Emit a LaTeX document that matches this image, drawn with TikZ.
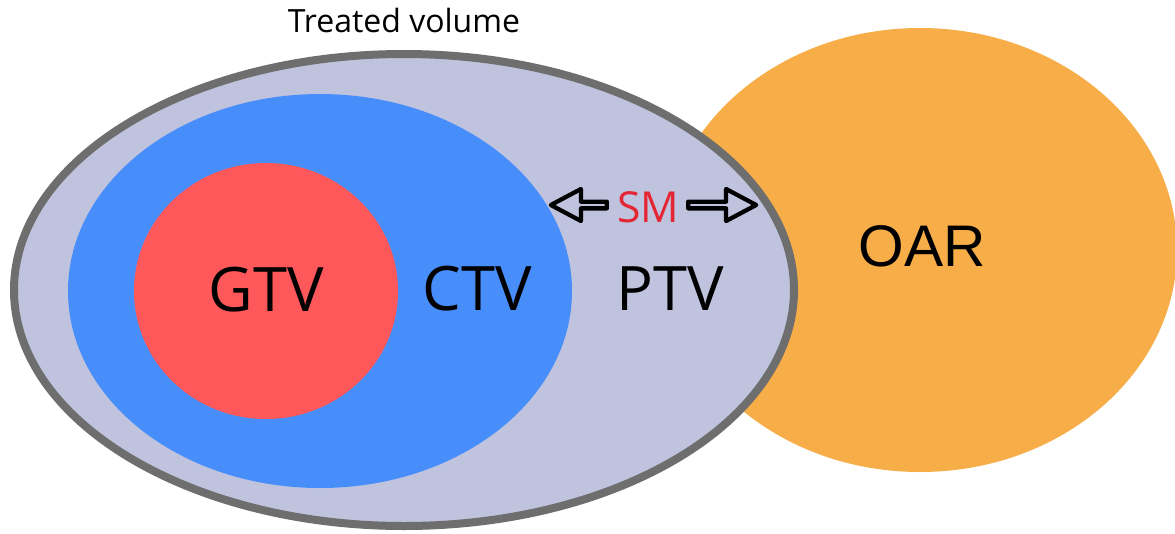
\documentclass[tikz,border=0pt]{standalone}
\usepackage{fontspec}
\setmainfont{Open Sans}
\newfontfamily\oarfont{Liberation Sans}
\usepackage{xcolor}
\usetikzlibrary{shapes.geometric, shapes.arrows, positioning}

\definecolor{ptvfill}{RGB}{191,195,221}
\definecolor{ptvedge}{RGB}{110,110,110}
\definecolor{ctvblue}{RGB}{72,142,250}
\definecolor{gtvred}{RGB}{254,88,90}
\definecolor{oarorange}{RGB}{247,173,72}
\definecolor{smred}{RGB}{228,38,52}

\begin{document}
\begin{tikzpicture}[x=0.75pt, y=-0.75pt,
    volume/.style={ellipse, inner sep=0pt, outer sep=0pt},
    vollabel/.style={inner sep=0pt, font=\fontsize{46}{50}\selectfont},
    hollowarrow/.style={single arrow, draw=black, fill=ptvfill, line width=3.2pt,
        line join=round, inner sep=0pt, minimum width=24pt,
        single arrow head extend=6pt, single arrow tip angle=56}]
% Fix the page to the reference size
\useasboundingbox (0,0) rectangle (1175,533);

% Draw the organ at risk behind the treated volume
\node[volume, fill=oarorange, minimum width=385.5pt, minimum height=333pt] (oar) at (920,250) {};

% Draw the nested volumes
\node[volume, fill=ptvfill, draw=ptvedge, line width=6pt, minimum width=585pt, minimum height=354pt] (ptv) at (404,290) {};
\node[volume, fill=ctvblue, minimum width=378pt, minimum height=295.5pt] (ctv) at (320,291) {};
\node[volume, fill=gtvred, minimum width=198pt, minimum height=192pt] (gtv) at (266,291) {};

% Labels
\node[anchor=base, inner sep=0pt, font=\fontsize{24}{28}\selectfont] (treated) at (404,32) {Treated volume};
\node[vollabel] (gtvlabel) at (266,290) {GTV};
\node[vollabel] (ctvlabel) at (477,289) {CTV};
\node[vollabel] (ptvlabel) at (670,289) {PTV};
\node[inner sep=0pt, font=\oarfont\fontsize{44}{48}\selectfont] (oarlabel) at (922,246) {OAR};

% Safety margin with its two hollow arrows
\node[inner sep=0pt, text=smred, font=\fontsize{32}{35}\selectfont] (sm) at (648,207) {SM};
\node[hollowarrow, shape border rotate=180, minimum height=42pt] (smleft) at (582,205) {};
\node[hollowarrow, minimum height=51pt] (smright) at (719,205) {};

\end{tikzpicture}
\end{document}
